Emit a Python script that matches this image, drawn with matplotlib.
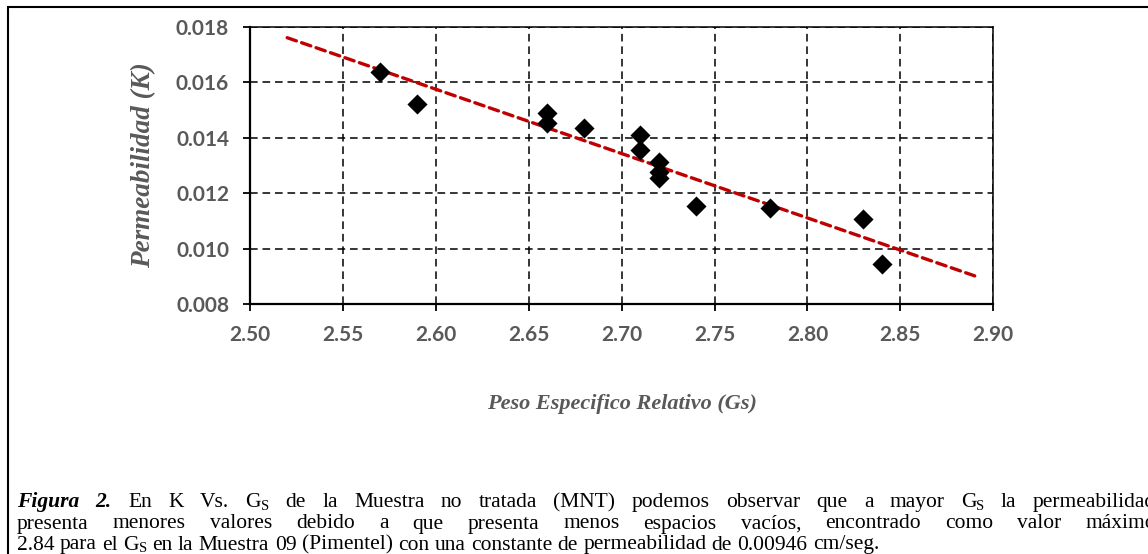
import numpy as np
import matplotlib
matplotlib.use("Agg")
import matplotlib.pyplot as plt
from matplotlib.patches import Rectangle

# ---- data ----
gs = [2.57, 2.59, 2.66, 2.66, 2.68, 2.71, 2.71, 2.72, 2.72, 2.72, 2.74, 2.78, 2.83, 2.84]
k = [0.01636, 0.01520, 0.01488, 0.01454, 0.01435, 0.01411, 0.01356, 0.01313,
     0.01278, 0.01255, 0.01155, 0.01146, 0.01107, 0.00946]
trend_range = [2.52, 2.89]
x_ticks = [2.50, 2.55, 2.60, 2.65, 2.70, 2.75, 2.80, 2.85, 2.90]
y_ticks = [0.008, 0.010, 0.012, 0.014, 0.016, 0.018]
x_label = "Peso Especifico Relativo (Gs)"
y_label = "Permeabilidad (K)"

caption_lines = [
    [("Figura 2.", 'bi'), (" En K Vs. G", 'n'), ("S", 'sub'),
     (" de la Muestra no tratada (MNT) podemos observar que a mayor G", 'n'),
     ("S", 'sub'), (" la permeabilidad", 'n')],
    [("presenta menores valores debido a que presenta menos espacios vacíos, "
      "encontrado como valor máximo", 'n')],
    [("2.84 para el G", 'n'), ("S", 'sub'),
     (" en la Muestra 09 (Pimentel) con una constante de permeabilidad de 0.00946 cm/seg.", 'n')],
]

W, H = 1148, 554
plt.rcParams['lines.scale_dashes'] = False
fig = plt.figure(figsize=(W / 100, H / 100), dpi=100)

ax = fig.add_axes([250 / W, 1 - 304.3 / H, (993.3 - 250) / W, (304.3 - 26.7) / H])
ax.set_xlim(2.50, 2.90)
ax.set_ylim(0.008, 0.018)
ax.set_xticks(x_ticks)
ax.set_yticks(y_ticks)
ax.set_xticklabels([f"{v:.2f}" for v in x_ticks])
ax.set_yticklabels([f"{v:.3f}" for v in y_ticks])

gray = "#595959"
for lab in ax.get_xticklabels() + ax.get_yticklabels():
    lab.set_fontfamily("Lato")
    lab.set_fontweight("bold")
    lab.set_fontsize(15)
    lab.set_color(gray)
ax.tick_params(axis='both', direction='out', length=5, width=1.3, color='black', pad=10)

ax.grid(True, color='black', linewidth=1.1, dashes=(5.5, 3.5))
ax.set_axisbelow(True)
for s in ['left', 'bottom']:
    ax.spines[s].set_linewidth(1.6)
for s in ['top', 'right']:
    ax.spines[s].set_linewidth(1.1)

# trend line (least squares fit of the data)
m, b = np.polyfit(gs, k, 1)
tx = np.array(trend_range)
ax.plot(tx, m * tx + b, color='#C00000', linewidth=2.4, dashes=(7, 4), zorder=3,
        dash_capstyle='round')

ax.scatter(gs, k, marker='D', s=105, color='black', zorder=4, linewidths=0)

serif = ["Liberation Serif", "DejaVu Serif"]
ax.set_xlabel(x_label, fontfamily=serif, fontstyle='italic', fontweight='bold',
              fontsize=16, color=gray, labelpad=35)
ax.set_ylabel(y_label, fontfamily=serif, fontstyle='italic', fontweight='bold',
              fontsize=19.5, color=gray, labelpad=14)

# outer frame
fig.patches.append(Rectangle((8 / W, -0.1), 1.2, 1 - 7 / H + 0.1, transform=fig.transFigure,
                             fill=False, edgecolor='black', linewidth=1.5))

# caption (justified like the source document, last line left aligned)
fs = 15.5
renderer = fig.canvas.get_renderer()


def make_words(parts):
    words = [[]]
    for txt, style in parts:
        chunks = txt.split(' ')
        for i, c in enumerate(chunks):
            if i > 0:
                words.append([])
            if c:
                words[-1].append((c, style))
    return [w for w in words if w]


def text_kw(style):
    kw = dict(fontfamily=serif, fontsize=fs, color='black', va='baseline')
    if style == 'bi':
        kw.update(fontstyle='italic', fontweight='bold')
    if style == 'sub':
        kw['fontsize'] = fs * 0.68
    return kw


def measure(txt, style):
    t = fig.text(0, 0, txt, **text_kw(style))
    w = t.get_window_extent(renderer=renderer).width
    t.remove()
    return w


space_w = measure("a b", 'n') - measure("ab", 'n')
x_left, x_right = 17, 1156
baselines = [507, 528.5, 549.5]
for li, (parts, yb) in enumerate(zip(caption_lines, baselines)):
    words = make_words(parts)
    widths = [[measure(t, s) for t, s in w] for w in words]
    total = sum(sum(ws) for ws in widths)
    if li < len(caption_lines) - 1:
        gap = (x_right - x_left - total) / (len(words) - 1)
    else:
        gap = space_w
    xpos = x_left
    for w, ws in zip(words, widths):
        for (t, s), wd in zip(w, ws):
            yy = yb + (2.5 if s == 'sub' else 0)
            fig.text(xpos / W, 1 - yy / H, t, **text_kw(s))
            xpos += wd
        xpos += gap

fig.savefig("out.png", dpi=100)
